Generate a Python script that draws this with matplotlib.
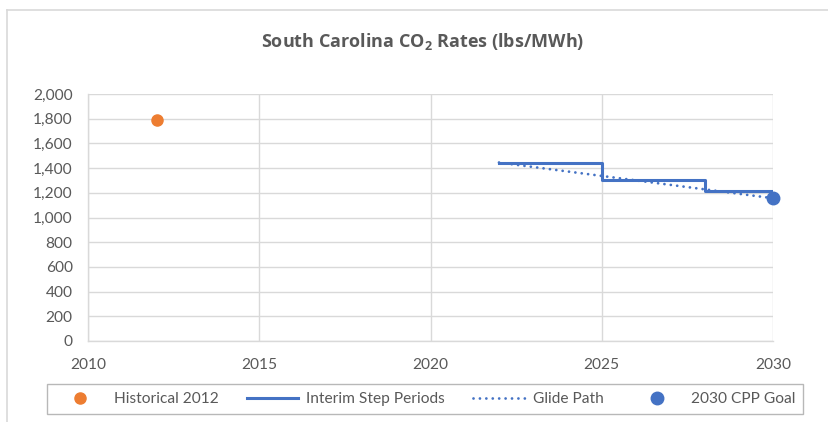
import matplotlib
matplotlib.use("Agg")
import matplotlib.pyplot as plt
from matplotlib.lines import Line2D
from matplotlib.ticker import FuncFormatter

# Data
hist_year = [2012]
hist_rate = [1791]
step_years = [2022, 2025, 2028, 2030]
step_rates = [1445, 1306, 1215, 1215]
glide_years = [2022, 2030]
glide_rates = [1445, 1156]
goal_year = [2030]
goal_rate = [1156]
x_ticks = [2010, 2015, 2020, 2025, 2030]
y_ticks = [0, 200, 400, 600, 800, 1000, 1200, 1400, 1600, 1800, 2000]

ORANGE = "#ED7D31"
BLUE = "#4472C4"
TXT = "#595959"
GRID = "#D9D9D9"

plt.rcParams['font.family'] = ['Lato', 'DejaVu Sans']
plt.rcParams['mathtext.fontset'] = 'custom'
plt.rcParams['mathtext.rm'] = 'Open Sans:bold'
plt.rcParams['mathtext.it'] = 'Open Sans:bold'
plt.rcParams['mathtext.bf'] = 'Open Sans:bold'

W, H = 829, 422
fig = plt.figure(figsize=(W / 100, H / 100), dpi=100)
ax = fig.add_axes([88 / W, 1 - 341 / H, (773 - 88) / W, (341 - 94) / H])

ax.plot(hist_year, hist_rate, 'o', color=ORANGE, markersize=8, label='Historical 2012', zorder=4)
ax.plot(step_years, step_rates, drawstyle='steps-post', color=BLUE, lw=2.2,
        label='Interim Step Periods', zorder=3)
ax.plot(glide_years, glide_rates, color=BLUE, lw=2.0, linestyle=(0, (0.01, 2.3)),
        dash_capstyle='round', label='Glide Path', zorder=3)
ax.plot(goal_year, goal_rate, 'o', color=BLUE, markersize=9, label='2030 CPP Goal',
        zorder=5, clip_on=False)

ax.set_xlim(2010, 2030)
ax.set_ylim(0, 2000)
ax.set_xticks(x_ticks)
ax.set_yticks(y_ticks)
ax.yaxis.set_major_formatter(FuncFormatter(lambda v, p: f"{int(v):,}"))
ax.grid(True, color=GRID, lw=1.0)
ax.set_axisbelow(True)
for s in ['top', 'right']:
    ax.spines[s].set_visible(False)
for s in ['left', 'bottom']:
    ax.spines[s].set_color(GRID)
    ax.spines[s].set_linewidth(1.0)
ax.tick_params(axis='both', length=0, labelsize=11.2, colors=TXT)
ax.tick_params(axis='x', pad=12)
ax.tick_params(axis='y', pad=11)

fig.text(423 / W, 1 - 41 / H, r"South Carolina CO$_\mathrm{2}$ Rates (lbs/MWh)",
         ha='center', va='center', fontsize=13, fontweight='bold', color=TXT,
         family='Open Sans')

# outer chart border (top and left)
fig.add_artist(Line2D([7 / W, 1], [1 - 10 / H, 1 - 10 / H], color=GRID, lw=1.2,
                      transform=fig.transFigure))
fig.add_artist(Line2D([7 / W, 7 / W], [0, 1 - 10 / H], color=GRID, lw=1.2,
                      transform=fig.transFigure))

leg = fig.legend(loc='center', bbox_to_anchor=(47 / W, 1 - 416 / H, (803 - 47) / W, 34 / H),
                 mode='expand', ncol=4, frameon=True, fancybox=False, fontsize=11.2,
                 handlelength=3.3, handletextpad=0.5, borderaxespad=0, borderpad=0.5,
                 columnspacing=1.0)
leg.get_frame().set_edgecolor("#A6A6A6")
leg.get_frame().set_linewidth(1.0)
for t in leg.get_texts():
    t.set_color(TXT)

fig.savefig("out.png", dpi=100)
